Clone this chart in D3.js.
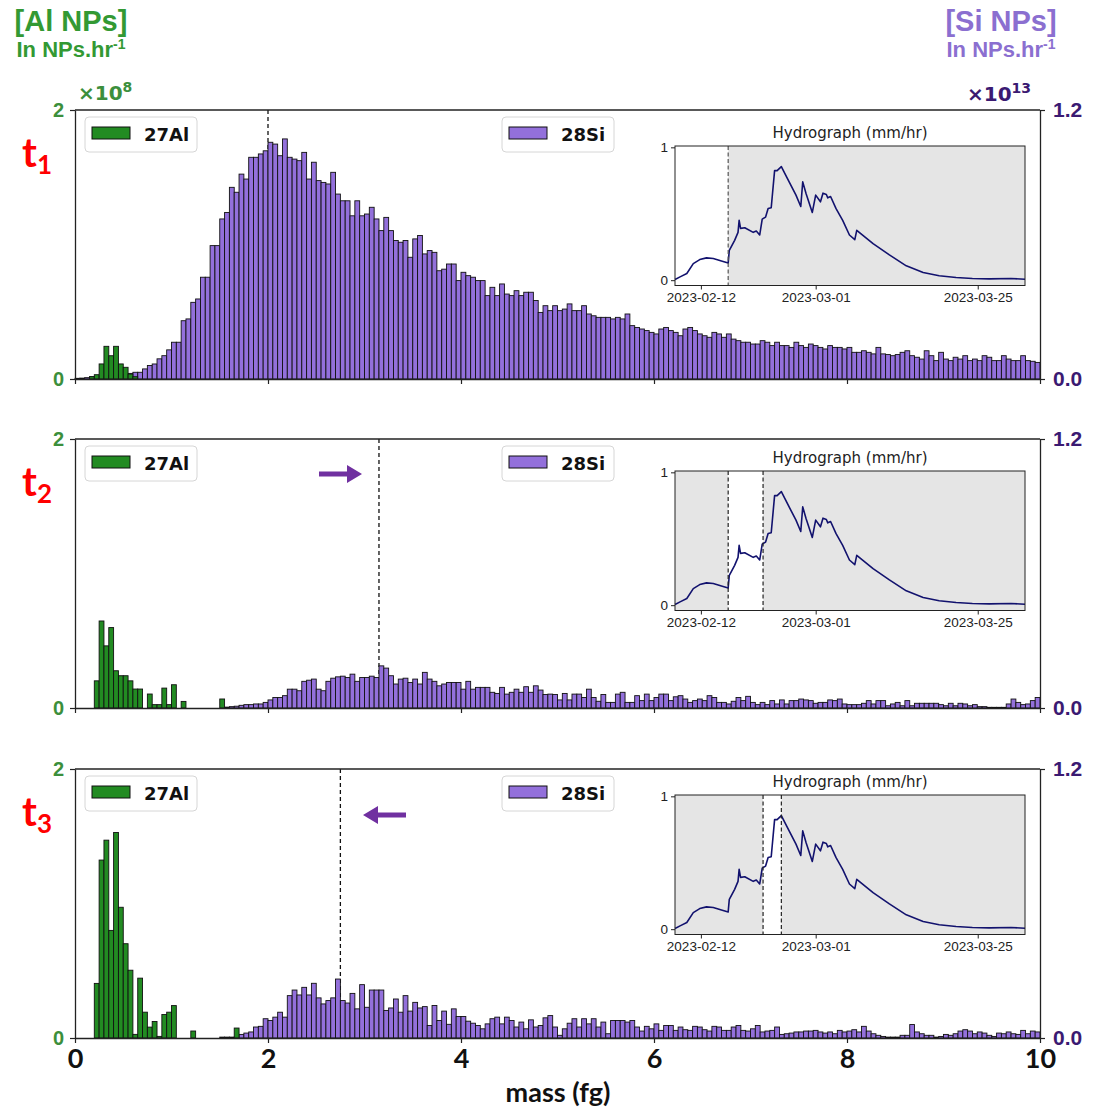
<!DOCTYPE html>
<html>
<head>
<meta charset="utf-8">
<script src="https://cdn.jsdelivr.net/npm/d3@7"></script>
<style>
  body { margin: 0; background: #fff; }
  svg { display: block; }
</style>
</head>
<body>
<div id="chart"></div>
<script>
// histogram bins: 0.05 fg wide, 0 .. 10 fg
const binWidth = 0.05;
const massTicks = [0, 2, 4, 6, 8, 10];

// 27Al counts per bin (x1e8 NPs/hr), starting at bin 0
const alT1 = [0, 0, 0, 0.017, 0.032, 0.112, 0.243, 0.173, 0.243, 0.112, 0.087, 0.037, 0.017];
const alT2 = [0, 0, 0, 0, 0.202, 0.647, 0.462, 0.598, 0.277, 0.24, 0.24, 0.202, 0.141, 0.141, 0,
  0.104, 0.025, 0.025, 0.148, 0.025, 0.173, 0, 0.049, 0, 0, 0, 0, 0, 0, 0, 0.067];
const alT3 = [0, 0, 0, 0, 0.406, 1.323, 1.471, 0.8, 1.528, 0.972, 0.701, 0.504, 0.027, 0.445, 0.192,
  0.081, 0.123, 0.012, 0.175, 0.192, 0.241, 0, 0, 0, 0.052, 0, 0, 0, 0, 0, 0, 0, 0, 0.074];

// 28Si counts per bin (x1e13 NPs/hr), first bin index given by *Start
const siT1Start = 0;
const siT1 = [0.003, 0.004, 0.006, 0.01, 0.01, 0.012, 0.015, 0.015, 0.018, 0.02,
  0.02, 0.025, 0.03, 0.03, 0.045, 0.06, 0.067, 0.09, 0.104, 0.13,
  0.164, 0.164, 0.26, 0.268, 0.342, 0.357, 0.454, 0.454, 0.595, 0.595,
  0.714, 0.743, 0.855, 0.833, 0.914, 0.892, 0.989, 0.989, 1.004, 1.018,
  1.056, 1.048, 0.996, 1.071, 0.989, 0.981, 0.974, 1.011, 0.892, 0.967,
  0.885, 0.877, 0.87, 0.922, 0.825, 0.795, 0.795, 0.728, 0.795, 0.728,
  0.736, 0.766, 0.714, 0.662, 0.721, 0.662, 0.618, 0.61, 0.618, 0.543,
  0.625, 0.64, 0.558, 0.573, 0.565, 0.483, 0.49, 0.513, 0.513, 0.439,
  0.476, 0.461, 0.454, 0.439, 0.439, 0.372, 0.409, 0.372, 0.424, 0.379,
  0.372, 0.394, 0.372, 0.387, 0.387, 0.35, 0.297, 0.327, 0.305, 0.327,
  0.305, 0.312, 0.335, 0.305, 0.305, 0.327, 0.29, 0.282, 0.275, 0.275,
  0.275, 0.268, 0.275, 0.268, 0.29, 0.238, 0.23, 0.223, 0.216, 0.208,
  0.201, 0.223, 0.23, 0.216, 0.208, 0.193, 0.223, 0.23, 0.216, 0.201,
  0.193, 0.186, 0.208, 0.201, 0.186, 0.201, 0.178, 0.171, 0.164, 0.164,
  0.156, 0.156, 0.171, 0.164, 0.149, 0.164, 0.149, 0.149, 0.141, 0.164,
  0.149, 0.141, 0.156, 0.149, 0.141, 0.134, 0.149, 0.141, 0.141, 0.134,
  0.141, 0.119, 0.119, 0.126, 0.119, 0.112, 0.141, 0.112, 0.109, 0.104,
  0.109, 0.119, 0.126, 0.104, 0.097, 0.089, 0.126, 0.104, 0.082, 0.119,
  0.089, 0.082, 0.097, 0.089, 0.104, 0.082, 0.089, 0.082, 0.104, 0.097,
  0.082, 0.082, 0.104, 0.089, 0.082, 0.082, 0.104, 0.082, 0.079, 0.074];
const siT2Start = 31;
const siT2 = [0.004, 0.006, 0.008, 0.012, 0.015, 0.015, 0.018, 0.018, 0.025,
  0.036, 0.047, 0.047, 0.055, 0.084, 0.084, 0.077, 0.119, 0.124, 0.129,
  0.084, 0.077, 0.119, 0.133, 0.139, 0.142, 0.136, 0.151, 0.119, 0.136,
  0.136, 0.142, 0.136, 0.188, 0.178, 0.144, 0.107, 0.129, 0.133, 0.114,
  0.129, 0.107, 0.159, 0.129, 0.119, 0.099, 0.107, 0.114, 0.114, 0.114,
  0.084, 0.119, 0.084, 0.092, 0.092, 0.092, 0.07, 0.065, 0.092, 0.062,
  0.07, 0.084, 0.07, 0.095, 0.07, 0.099, 0.08, 0.06, 0.062, 0.06,
  0.036, 0.065, 0.036, 0.062, 0.062, 0.047, 0.084, 0.047, 0.03, 0.06,
  0.025, 0.025, 0.062, 0.07, 0.025, 0.025, 0.055, 0.033, 0.062, 0.033,
  0.047, 0.062, 0.062, 0.033, 0.05, 0.055, 0.04, 0.025, 0.033, 0.04,
  0.033, 0.055, 0.047, 0.025, 0.025, 0.018, 0.03, 0.047, 0.033, 0.052,
  0.025, 0.015, 0.025, 0.015, 0.033, 0.018, 0.036, 0.018, 0.033, 0.033,
  0.04, 0.036, 0.033, 0.021, 0.025, 0.025, 0.036, 0.033, 0.04, 0.018,
  0.015, 0.015, 0.015, 0.021, 0.033, 0.018, 0.033, 0.033, 0.01, 0.018,
  0.025, 0.01, 0.033, 0.01, 0.021, 0.021, 0.021, 0.021, 0.021, 0.015,
  0.01, 0.021, 0.01, 0.021, 0.018, 0.01, 0.015, 0.006, 0.006, 0.003,
  0.003, 0.003, 0.003, 0.018, 0.04, 0.025, 0.015, 0.018, 0.033, 0.047];
const siT3Start = 30;
const siT3 = [0.004, 0.004, 0.004, 0.004, 0.016, 0.022, 0.027, 0.049, 0.052, 0.086,
  0.078, 0.093, 0.115, 0.093, 0.189, 0.214, 0.192, 0.226, 0.192, 0.244,
  0.179, 0.152, 0.167, 0.179, 0.263, 0.167, 0.156, 0.199, 0.13, 0.238,
  0.137, 0.214, 0.214, 0.214, 0.123, 0.134, 0.174, 0.115, 0.189, 0.12,
  0.159, 0.134, 0.14, 0.056, 0.145, 0.078, 0.12, 0.061, 0.13, 0.096,
  0.096, 0.075, 0.066, 0.056, 0.041, 0.063, 0.086, 0.093, 0.063, 0.093,
  0.078, 0.049, 0.071, 0.041, 0.081, 0.049, 0.056, 0.09, 0.1, 0.049,
  0.012, 0.041, 0.066, 0.086, 0.049, 0.086, 0.063, 0.086, 0.049, 0.071,
  0.019, 0.078, 0.078, 0.078, 0.071, 0.078, 0.049, 0.031, 0.052, 0.041,
  0.063, 0.034, 0.056, 0.056, 0.034, 0.049, 0.037, 0.034, 0.052, 0.049,
  0.037, 0.031, 0.052, 0.049, 0.034, 0.034, 0.049, 0.056, 0.034, 0.031,
  0.041, 0.056, 0.027, 0.031, 0.034, 0.049, 0.016, 0.019, 0.022, 0.027,
  0.027, 0.031, 0.031, 0.034, 0.027, 0.022, 0.027, 0.019, 0.034, 0.027,
  0.031, 0.037, 0.027, 0.052, 0.031, 0.019, 0.012, 0.007, 0.004, 0.004,
  0.004, 0.012, 0.012, 0.06, 0.027, 0.019, 0.012, 0.012, 0.004, 0.007,
  0.016, 0.012, 0.019, 0.031, 0.037, 0.031, 0.019, 0.027, 0.022, 0.012,
  0.007, 0.022, 0.019, 0.027, 0.019, 0.016, 0.034, 0.019, 0.031, 0.027];

// dashed marker of each panel (fg)
const markerMass = [2.0, 3.15, 2.75];

// hydrograph (mm/hr)
const hydroTime = ["2023-02-08 04:00", "2023-02-08 22:00", "2023-02-09 22:00", "2023-02-10 21:00",
  "2023-02-11 20:00", "2023-02-12 20:00", "2023-02-13 20:00", "2023-02-15 01:00", "2023-02-16 01:00",
  "2023-02-16 05:00", "2023-02-17 00:00", "2023-02-17 12:00", "2023-02-17 16:00", "2023-02-17 21:00",
  "2023-02-18 12:00", "2023-02-19 18:00", "2023-02-20 05:00", "2023-02-20 17:00", "2023-02-21 02:00",
  "2023-02-21 14:00", "2023-02-21 23:00", "2023-02-22 10:00", "2023-02-22 22:00", "2023-02-23 07:00",
  "2023-02-23 22:00", "2023-02-24 17:00", "2023-02-26 02:00", "2023-02-26 19:00", "2023-02-27 02:00",
  "2023-02-27 14:00", "2023-02-28 12:00", "2023-03-01 00:00", "2023-03-01 17:00", "2023-03-02 02:00",
  "2023-03-02 14:00", "2023-03-02 19:00", "2023-03-03 05:00", "2023-03-04 00:00", "2023-03-05 00:00",
  "2023-03-06 00:00", "2023-03-06 19:00", "2023-03-07 02:00", "2023-03-09 12:00", "2023-03-11 22:00",
  "2023-03-14 10:00", "2023-03-16 22:00", "2023-03-19 07:00", "2023-03-21 19:00", "2023-03-24 05:00",
  "2023-03-26 17:00", "2023-03-29 22:00", "2023-04-01 00:00"];
const hydroFlow = [0.005, 0.025, 0.05, 0.125, 0.155, 0.168, 0.163, 0.145, 0.13,
  0.225, 0.3, 0.36, 0.45, 0.39, 0.395, 0.36, 0.37, 0.34, 0.46,
  0.475, 0.54, 0.545, 0.825, 0.825, 0.855, 0.775, 0.64, 0.555, 0.74,
  0.65, 0.51, 0.64, 0.59, 0.655, 0.645, 0.62, 0.63, 0.54, 0.45,
  0.34, 0.305, 0.375, 0.275, 0.19, 0.108, 0.058, 0.033, 0.02, 0.0125,
  0.01, 0.0125, 0.0075];
const hydroTicks = ["2023-02-12", "2023-03-01", "2023-03-25"];
// sampling window (white) of each panel
const windowStart = [null, "2023-02-16 01:00", "2023-02-21 05:00"];
const windowEnd = ["2023-02-16 01:00", "2023-02-21 05:00", "2023-02-23 22:00"];

const alSeries = [alT1, alT2, alT3];
const siSeries = [[siT1Start, siT1], [siT2Start, siT2], [siT3Start, siT3]];

const W = 1094, H = 1111;
const panelTop = [110, 439, 769];
const panelH = 269;
const insetTop = [146, 471, 795];
const insetH = 139.5;
const green = "#228b22", purple = "#9370db";
const boldFont = "DejaVu Sans, sans-serif";

const svg = d3.select("#chart").append("svg")
  .attr("width", W).attr("height", H)
  .style("font-family", boldFont);

const x = d3.scaleLinear().domain([0, 10]).range([75, 1040]);
const parseT = d3.timeParse("%Y-%m-%d %H:%M");
const parseD = d3.timeParse("%Y-%m-%d");
const xh = d3.scaleTime()
  .domain([parseT("2023-02-08 04:00"), parseT("2023-04-01 00:00")])
  .range([675, 1025]);

function drawPanel(k) {
  const top = panelTop[k], bottom = top + panelH;
  const yAl = d3.scaleLinear().domain([0, 2]).range([bottom, top]);
  const ySi = d3.scaleLinear().domain([0, 1.2]).range([bottom, top]);
  const g = svg.append("g");

  // dashed marker behind the bars
  g.append("line")
    .attr("x1", x(markerMass[k])).attr("x2", x(markerMass[k]))
    .attr("y1", top).attr("y2", bottom)
    .attr("stroke", "#111").attr("stroke-width", 1.3)
    .attr("stroke-dasharray", "4,3");

  const [s0, si] = siSeries[k];
  g.selectAll(".si").data(si).enter().append("rect")
    .attr("x", (d, i) => x((s0 + i) * binWidth))
    .attr("width", x(binWidth) - x(0))
    .attr("y", d => ySi(d))
    .attr("height", d => bottom - ySi(d))
    .attr("fill", purple).attr("stroke", "#111").attr("stroke-width", 0.9);

  g.selectAll(".al").data(alSeries[k].map((v, i) => ({ v, i })).filter(d => d.v > 0))
    .enter().append("rect")
    .attr("x", d => x(d.i * binWidth))
    .attr("width", x(binWidth) - x(0))
    .attr("y", d => yAl(d.v))
    .attr("height", d => bottom - yAl(d.v))
    .attr("fill", green).attr("stroke", "#111").attr("stroke-width", 0.9);

  // axes
  const left = g.append("g").attr("transform", "translate(75,0)")
    .call(d3.axisLeft(yAl).tickValues([0, 2]).tickFormat(d3.format("d"))
      .tickSize(5).tickSizeOuter(0).tickPadding(6));
  left.selectAll("text").attr("fill", "#3c8f3c").style("font-size", "20px").style("font-weight", "bold");
  const right = g.append("g").attr("transform", "translate(1040,0)")
    .call(d3.axisRight(ySi).tickValues([0, 1.2]).tickFormat(d3.format(".1f"))
      .tickSize(5).tickSizeOuter(0).tickPadding(8));
  right.selectAll("text").attr("fill", "#3b1a72").style("font-size", "21px").style("font-weight", "bold");
  const bot = g.append("g").attr("transform", `translate(0,${bottom})`)
    .call(d3.axisBottom(x).tickValues(massTicks).tickSize(5).tickSizeOuter(0)
      .tickFormat(k === 2 ? d3.format("d") : () => "").tickPadding(6));
  bot.selectAll("text").attr("fill", "#111").style("font-family", "Lato, sans-serif")
    .style("font-size", "27px").style("font-weight", "bold");
  [left, right, bot].forEach(a => {
    a.select(".domain").attr("stroke", "#222").attr("stroke-width", 1.3);
    a.selectAll(".tick line").attr("stroke", "#222").attr("stroke-width", 1.2);
  });
  g.append("line").attr("x1", 75).attr("x2", 1040).attr("y1", top).attr("y2", top)
    .attr("stroke", "#222").attr("stroke-width", 1.3);

  // legends
  const legends = [[85, green, "27Al"], [502, purple, "28Si"]];
  legends.forEach(([lx, c, label]) => {
    const lg = g.append("g");
    lg.append("rect").attr("x", lx).attr("y", top + 7).attr("width", 112).attr("height", 35)
      .attr("rx", 4).attr("fill", "#fff").attr("fill-opacity", 0.85)
      .attr("stroke", "#d6d6d6").attr("stroke-width", 1);
    lg.append("rect").attr("x", lx + 7).attr("y", top + 17).attr("width", 38).attr("height", 12)
      .attr("fill", c).attr("stroke", "#111").attr("stroke-width", 1);
    lg.append("text").attr("x", lx + 59).attr("y", top + 31).text(label)
      .style("font-size", "18px").style("font-weight", "bold").attr("fill", "#111");
  });

  // panel label t1/t2/t3
  const t = g.append("text").attr("x", 22).attr("y", top + 57)
    .style("font-family", "Lato, sans-serif").style("font-weight", "bold").attr("fill", "#ff0000");
  t.append("tspan").style("font-size", "40px").text("t");
  t.append("tspan").style("font-size", "26px").attr("dy", 7).text(String(k + 1));

  drawInset(k);
}

function drawInset(k) {
  const top = insetTop[k], bottom = top + insetH;
  const yh = d3.scaleLinear().domain([-0.04, 1.01]).range([bottom, top]);
  const g = svg.append("g");
  const [x0, x1] = xh.range();
  g.append("rect").attr("x", x0).attr("y", top).attr("width", x1 - x0).attr("height", insetH)
    .attr("fill", "#e5e5e5");
  const ws = windowStart[k] ? xh(parseT(windowStart[k])) : x0;
  const we = xh(parseT(windowEnd[k]));
  g.append("rect").attr("x", ws).attr("y", top).attr("width", we - ws).attr("height", insetH)
    .attr("fill", "#fff");

  const line = d3.line()
    .x((d, i) => xh(parseT(hydroTime[i])))
    .y(d => yh(d));
  g.append("path").datum(hydroFlow).attr("d", line)
    .attr("fill", "none").attr("stroke", "#12126e").attr("stroke-width", 1.6)
    .attr("stroke-linejoin", "round");

  [windowStart[k], windowEnd[k]].filter(d => d).forEach(d => {
    g.append("line").attr("x1", xh(parseT(d))).attr("x2", xh(parseT(d)))
      .attr("y1", top).attr("y2", bottom)
      .attr("stroke", k === 0 ? "#555" : "#222").attr("stroke-width", 1.2)
      .attr("stroke-dasharray", "4,2.5");
  });

  g.append("rect").attr("x", x0).attr("y", top).attr("width", x1 - x0).attr("height", insetH)
    .attr("fill", "none").attr("stroke", "#222").attr("stroke-width", 1);

  const ax = g.append("g").attr("transform", `translate(0,${bottom})`)
    .call(d3.axisBottom(xh).tickValues(hydroTicks.map(parseD))
      .tickFormat(d3.timeFormat("%Y-%m-%d")).tickSize(4).tickSizeOuter(0).tickPadding(3));
  const ay = g.append("g").attr("transform", `translate(${x0},0)`)
    .call(d3.axisLeft(yh).tickValues([0, 1]).tickFormat(d3.format("d"))
      .tickSize(4).tickSizeOuter(0).tickPadding(3));
  [ax, ay].forEach(a => {
    a.select(".domain").remove();
    a.selectAll("text").attr("fill", "#222").style("font-size", "13.5px");
    a.selectAll(".tick line").attr("stroke", "#222");
  });
  g.append("text").attr("x", (x0 + x1) / 2).attr("y", top - 8).attr("text-anchor", "middle")
    .attr("fill", "#222").style("font-size", "15px").text("Hydrograph (mm/hr)");
}

[0, 1, 2].forEach(drawPanel);

// arrows showing the move of the marker
const arrowColor = "#7030a0";
svg.append("path")
  .attr("d", "M319,471.5 H347 V465 L362,474 L347,483 V476.5 H319 Z")
  .attr("fill", arrowColor);
svg.append("path")
  .attr("d", "M406,812.5 H378 V806 L363,815 L378,824 V817.5 H406 Z")
  .attr("fill", arrowColor);

// scale multipliers
const m1 = svg.append("text").attr("x", 78).attr("y", 100).attr("fill", "#3c8f3c")
  .style("font-size", "20px").style("font-weight", "bold");
m1.append("tspan").text("×10");
m1.append("tspan").attr("dy", -8).style("font-size", "14px").text("8");
const m2 = svg.append("text").attr("x", 967).attr("y", 101).attr("fill", "#3b1a72")
  .style("font-size", "20px").style("font-weight", "bold");
m2.append("tspan").text("×10");
m2.append("tspan").attr("dy", -8).style("font-size", "14px").text("13");

// headers
const headFont = "Liberation Sans, Arial, sans-serif";
function header(cx, color, title) {
  svg.append("text").attr("x", cx).attr("y", 31).attr("text-anchor", "middle")
    .attr("fill", color).style("font-family", headFont).style("font-weight", "bold")
    .style("font-size", "29px").text(title);
  const u = svg.append("text").attr("x", cx).attr("y", 57).attr("text-anchor", "middle")
    .attr("fill", color).style("font-family", headFont).style("font-weight", "bold")
    .style("font-size", "22px");
  u.append("tspan").text("In NPs.hr");
  u.append("tspan").attr("dy", -8).style("font-size", "14px").text("-1");
}
header(71, "#339933", "[Al NPs]");
header(1001, "#8b6fd0", "[Si NPs]");

svg.append("text").attr("x", 558).attr("y", 1102).attr("text-anchor", "middle")
  .style("font-family", "Lato, sans-serif").style("font-weight", "bold")
  .style("font-size", "27px").attr("fill", "#111").text("mass (fg)");
</script>
</body>
</html>
